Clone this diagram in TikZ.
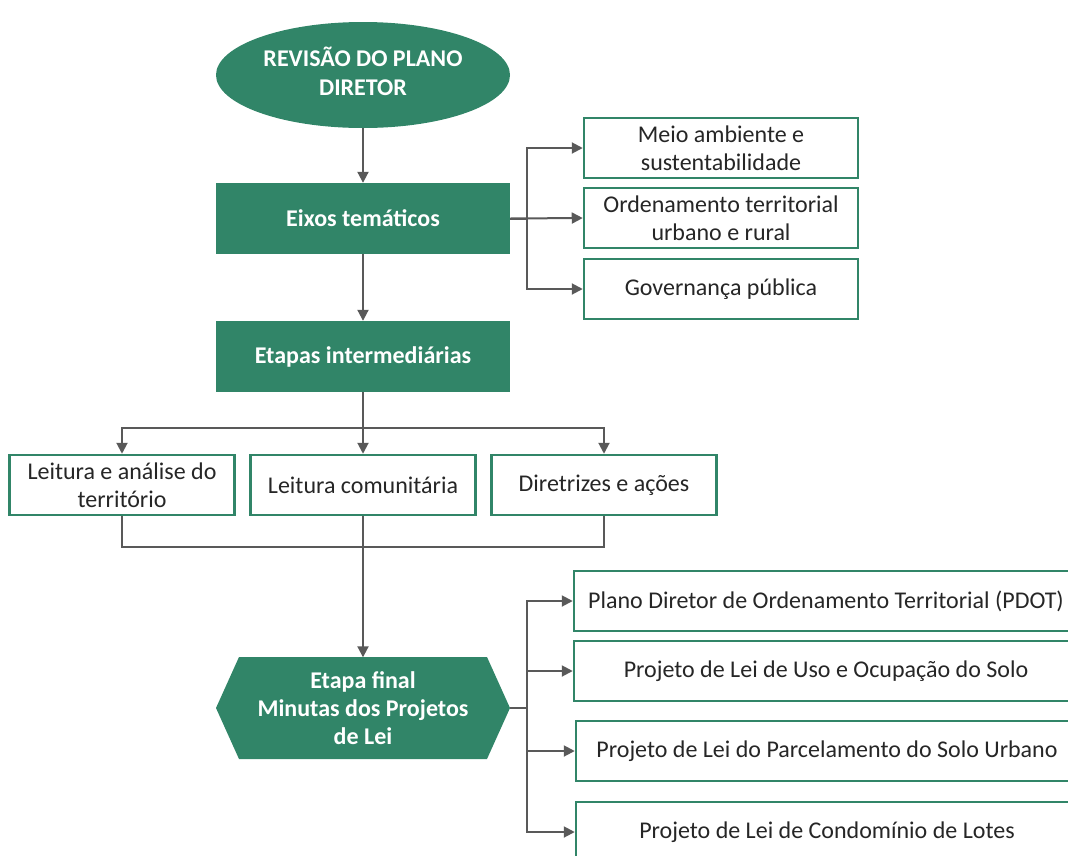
\documentclass[tikz,border=0pt]{standalone}
\usepackage{fontspec}
\setmainfont{Carlito}
\usetikzlibrary{shapes.geometric,arrows.meta}
\definecolor{vg}{RGB}{49,133,104}
\definecolor{lnc}{RGB}{89,89,89}
\begin{document}
\begin{tikzpicture}[x=1pt,y=-1pt,
  gbox/.style={fill=vg,text=white,font=\bfseries\fontsize{24}{28}\selectfont,minimum width=294pt,minimum height=71pt,inner sep=0pt,align=center},
  wbox/.style={draw=vg,line width=2.5pt,fill=white,text=black!85,font=\fontsize{24}{28}\selectfont,align=center,inner sep=0pt,minimum height=60pt},
  arr/.style={draw=lnc,line width=2pt,-{Triangle[length=11pt,width=11pt]}},
  lnk/.style={draw=lnc,line width=2pt}]
\useasboundingbox (0,0) rectangle (1068,855);
\begin{scope}
\clip (0,0) rectangle (1068,855);
\node[ellipse,fill=vg,minimum width=294pt,minimum height=106pt,inner sep=0pt] (rev) at (363,75) {};
\node[text=white,font=\bfseries\fontsize{24}{29}\selectfont,inner sep=0pt,align=center] (revt) at (363,71) {REVISÃO DO PLANO\\DIRETOR};
\node[gbox] (eixos) at (363,218.5) {Eixos temáticos};
\node[gbox] (etapas) at (363,356.5) {Etapas intermediárias};
\node[wbox,minimum width=274pt] (meio) at (721,148) {Meio ambiente e\\sustentabilidade};
\node[wbox,minimum width=274pt] (ord) at (721,218) {Ordenamento territorial\\urbano e rural};
\node[wbox,minimum width=274pt] (gov) at (721,289) {Governança pública};
\node[wbox,minimum width=225pt] (l1) at (122,485) {Leitura e análise do\\território};
\node[wbox,minimum width=225pt] (l2) at (363,485) {Leitura comunitária};
\node[wbox,minimum width=225pt] (l3) at (604,485) {Diretrizes e ações};
\fill[vg] (216,708) -- (239,657) -- (487,657) -- (510,708) -- (487,759) -- (239,759) -- cycle;
\node[text=white,font=\bfseries\fontsize{24}{28}\selectfont,minimum width=294pt,minimum height=101pt,inner sep=0pt,align=center] (fin) at (363,708) {Etapa final\\Minutas dos Projetos\\de Lei};
\node[wbox,minimum width=504pt] (p1) at (826,601) {Plano Diretor de Ordenamento Territorial (PDOT)};
\node[wbox,minimum width=504pt] (p2) at (826,671) {Projeto de Lei de Uso e Ocupação do Solo};
\node[wbox,minimum width=502pt] (p3) at (827,751) {Projeto de Lei do Parcelamento do Solo Urbano};
\node[wbox,minimum width=502pt] (p4) at (827,832) {Projeto de Lei de Condomínio de Lotes};
\coordinate (j1) at (527,218.5);
\coordinate (j2) at (363,428);
\coordinate (j3) at (363,547);
\coordinate (j4) at (527,708);
\draw[arr] (rev.south) -- (eixos.north);
\draw[arr] (eixos.south) -- (etapas.north);
\draw[arr] (eixos.east) -- (j1) |- (meio.west);
\draw[arr] (eixos.east) -- (ord.west);
\draw[arr] (eixos.east) -- (j1) |- (gov.west);
\draw[arr] (etapas.south) -- (j2) -| (l1.north);
\draw[arr] (etapas.south) -- (l2.north);
\draw[arr] (etapas.south) -- (j2) -| (l3.north);
\draw[lnk] (l1.south) |- (j3);
\draw[lnk] (l3.south) |- (j3);
\draw[arr] (l2.south) -- (fin.north);
\draw[arr] (fin.east) -- (j4) |- (p1.west);
\draw[arr] (fin.east) -- (j4) |- (p2.west);
\draw[arr] (fin.east) -- (j4) |- (p3.west);
\draw[arr] (fin.east) -- (j4) |- (p4.west);
\end{scope}
\end{tikzpicture}
\end{document}
